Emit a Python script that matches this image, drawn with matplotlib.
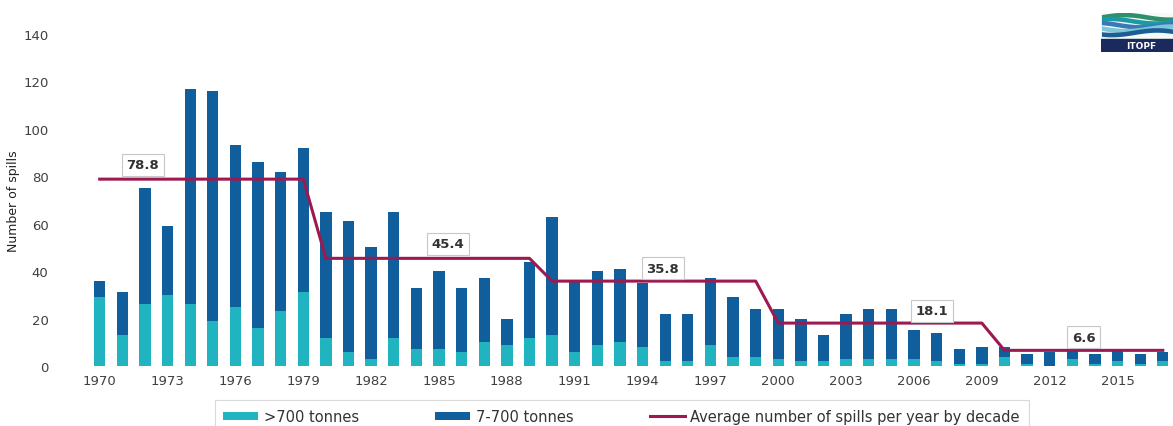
import matplotlib.pyplot as plt
import numpy as np

# data
years = list(range(1970, 2018))
large = [29, 13, 26, 30, 26, 19, 25, 16, 23, 31,
         12, 6, 3, 12, 7, 7, 6, 10, 9, 12,
         13, 6, 9, 10, 8, 2, 2, 9, 4, 4,
         3, 2, 2, 3, 3, 3, 3, 2, 1, 1,
         4, 1, 0, 3, 1, 2, 1, 2]
medium = [7, 18, 49, 29, 91, 97, 68, 70, 59, 61,
          53, 55, 47, 53, 26, 33, 27, 27, 11, 32,
          50, 30, 31, 31, 27, 20, 20, 28, 25, 20,
          21, 18, 11, 19, 21, 21, 12, 12, 6, 7,
          4, 4, 6, 4, 4, 5, 4, 4]
decade_start = [1970, 1980, 1990, 2000, 2010]
decade_end = [1979, 1989, 1999, 2009, 2017]
decade_avg = [78.8, 45.4, 35.8, 18.1, 6.6]
avg_labels = ["78.8", "45.4", "35.8", "18.1", "6.6"]
label_x = [1971.9, 1985.4, 1994.9, 2006.8, 2013.5]
label_y = [84.8, 51.5, 41.3, 23.2, 12.2]

c_large = "#1fb4c0"
c_medium = "#115e9c"
c_line = "#9c1a50"

fig = plt.figure(figsize=(11.73, 4.27), dpi=100)
ax = fig.add_axes([0.058, 0.1405, 0.942, 0.7775])

b1 = ax.bar(years, large, width=0.5, color=c_large, label=">700 tonnes")
b2 = ax.bar(years, medium, width=0.5, bottom=large, color=c_medium, label="7-700 tonnes")

# step line for decade averages
lx, ly = [], []
for s, e, a in zip(decade_start, decade_end, decade_avg):
    lx += [s, e]
    ly += [a, a]
ln, = ax.plot(lx, ly, color=c_line, lw=2.2, label="Average number of spills per year by decade")

for x, y, t in zip(label_x, label_y, avg_labels):
    ax.text(x, y, t, ha="center", va="center", fontsize=9.5, fontweight="bold",
            color="#333333",
            bbox=dict(boxstyle="square,pad=0.35", fc="white", ec="#c8c8c8", lw=0.8))

ax.set_xlim(1968.6, 2017.45)
ax.set_ylim(0, 140)
ax.set_xticks(range(1970, 2017, 3))
ax.set_yticks(range(0, 141, 20))
ax.tick_params(length=0, labelsize=9.5, colors="#404040", pad=6)
ax.tick_params(axis="y", pad=14)
for sp in ax.spines.values():
    sp.set_visible(False)
ax.set_ylabel("Number of spills", fontsize=9, family=["Liberation Sans Narrow", "DejaVu Sans"],
              color="#222222", labelpad=2)

leg = fig.legend(handles=[b1, b2, ln], loc="center", bbox_to_anchor=(0.53, 0.022), ncol=3,
                 fontsize=10.5, frameon=True, fancybox=False, edgecolor="#d0d0d0",
                 handlelength=2.4, handleheight=0.5, handletextpad=0.4, columnspacing=5.2,
                 borderpad=0.6, borderaxespad=0, labelcolor="#333333")
leg.get_frame().set_linewidth(0.8)

# logo
lax = fig.add_axes([0.939, 0.878, 0.061, 0.09])
lax.fill_between([0, 1], 0.3, 1, color="#f4faf8")
xx = np.linspace(0, 1, 60)
wave_cols = ["#2f8f6a", "#1b9aa5", "#3a78b8", "#7cc7d6", "#1d5d96"]
for k, c in enumerate(wave_cols):
    top = 0.95 - 0.1 * k + 0.06 * np.sin(5 * xx + k)
    lax.fill_between(xx, top - 0.12, top, color=c, lw=0)
lax.fill_between([0, 1], 0, 0.32, color="#1b2a5c")
lax.text(0.55, 0.15, "ITOPF", color="white", fontsize=6.5, fontweight="bold",
         ha="center", va="center")
lax.set_xlim(0, 1)
lax.set_ylim(0, 1)
lax.axis("off")

fig.savefig("out.png", dpi=100)
